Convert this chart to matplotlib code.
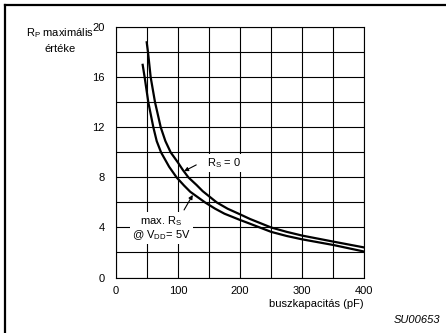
import matplotlib

matplotlib.use("Agg")
import matplotlib.pyplot as plt  # noqa: E402
from matplotlib.lines import Line2D  # noqa: E402

plt.rcParams["font.family"] = ["Liberation Sans", "DejaVu Sans"]
plt.rcParams["mathtext.fontset"] = "custom"
plt.rcParams["mathtext.rm"] = "Liberation Sans"

# Curves (bus capacitance in pF -> max Rp in kOhm)
cap_rs0 = [49.9, 52, 56.3, 63.3, 72.5, 80, 88.5, 100, 108, 117, 130, 140,
           162.6, 180, 200, 216, 250, 275, 300, 350, 400]
rp_rs0 = [18.8, 18, 16, 14, 12, 10.9, 10, 9.2, 8.6, 8.0, 7.4, 6.9,
          6.0, 5.5, 5.05, 4.68, 4.0, 3.65, 3.35, 2.87, 2.4]

cap_rsmax = [43.4, 46.6, 52.5, 60.6, 66, 73, 86, 98, 110, 120, 143.8,
             160, 175, 200, 216, 250, 275, 300, 350, 400]
rp_rsmax = [17.0, 16, 14, 12, 10.9, 10, 8.85, 8.0, 7.35, 6.85, 6.0,
            5.5, 5.1, 4.6, 4.3, 3.65, 3.32, 3.05, 2.6, 2.07]

x_ticks = [0, 100, 200, 300, 400]
y_ticks = [0, 4, 8, 12, 16, 20]

W, H = 446, 333
fig = plt.figure(figsize=(W / 100, H / 100), dpi=100)
ax = fig.add_axes([115.7 / W, 1 - 277.5 / H, (364.3 - 115.7) / W, (277.5 - 27.3) / H])

ax.set_xlim(0, 400)
ax.set_ylim(0, 20)
ax.set_xticks(x_ticks)
ax.set_yticks(y_ticks)
ax.set_xticks(range(0, 401, 50), minor=True)
ax.set_yticks(range(0, 21, 2), minor=True)
ax.grid(which="both", color="black", lw=0.8)
ax.tick_params(which="both", length=0, labelsize=8, colors="black")
ax.tick_params(axis="y", pad=8)
ax.tick_params(axis="x", pad=6)
for s in ax.spines.values():
    s.set_linewidth(0.8)

ax.plot(cap_rs0, rp_rs0, color="black", lw=1.6, solid_joinstyle="round")
ax.plot(cap_rsmax, rp_rsmax, color="black", lw=1.6, solid_joinstyle="round")

box = dict(facecolor="white", edgecolor="none", pad=1.5)
ax.text(173.6, 9.12, r"R$_\mathregular{S}$ = 0", fontsize=8, ha="center",
        va="center", bbox=box)
ax.text(73.7, 3.95, "max. R$_\\mathregular{S}$\n@ V$_\\mathregular{DD}$= 5V",
        fontsize=8, ha="center", va="center", linespacing=1.0, bbox=box)

arrow = dict(arrowstyle="-|>", color="black", lw=0.8, mutation_scale=6,
             shrinkA=0, shrinkB=0)
ax.annotate("", xy=(110, 8.5), xytext=(129.6, 9.0), arrowprops=arrow)
ax.annotate("", xy=(124, 6.6), xytext=(110, 5.4), arrowprops=arrow)

fig.text(60 / W, 1 - 40 / H, "R$_\\mathregular{P}$ maximális\nértéke",
         fontsize=8, ha="center", va="center", linespacing=1.4)
fig.text(364 / W, 1 - 304 / H, "buszkapacitás (pF)", fontsize=8,
         ha="right", va="center")
fig.text(440 / W, 1 - 320 / H, "SU00653", fontsize=8, style="italic",
         ha="right", va="center")

# outer frame (top and left edge)
fig.add_artist(Line2D([4.5 / W, 1], [1 - 4.5 / H, 1 - 4.5 / H], color="black", lw=1.6))
fig.add_artist(Line2D([4.5 / W, 4.5 / W], [0, 1 - 4.5 / H], color="black", lw=1.6))

fig.savefig("out.png", dpi=100)
plt.close(fig)
